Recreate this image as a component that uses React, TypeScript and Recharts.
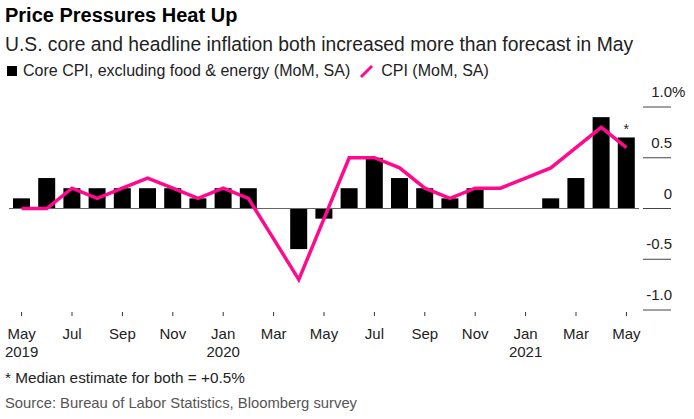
import React from 'react';
import { ComposedChart, Bar, Line, XAxis, YAxis, ReferenceLine } from 'recharts';

const months = ['May', 'Jun', 'Jul', 'Aug', 'Sep', 'Oct', 'Nov', 'Dec', 'Jan', 'Feb', 'Mar', 'Apr', 'May', 'Jun', 'Jul', 'Aug', 'Sep', 'Oct', 'Nov', 'Dec', 'Jan', 'Feb', 'Mar', 'Apr', 'May'];
const years = ['2019', '', '', '', '', '', '', '', '2020', '', '', '', '', '', '', '', '', '', '', '', '2021', '', '', '', ''];
const coreCpi = [0.1, 0.3, 0.2, 0.2, 0.2, 0.2, 0.2, 0.1, 0.2, 0.2, 0.0, -0.4, -0.1, 0.2, 0.5, 0.3, 0.2, 0.1, 0.2, 0.0, 0.0, 0.1, 0.3, 0.9, 0.7];
const cpi = [0.0, 0.0, 0.2, 0.1, 0.2, 0.3, 0.2, 0.1, 0.2, 0.1, -0.3, -0.7, -0.1, 0.5, 0.5, 0.4, 0.2, 0.1, 0.2, 0.2, 0.3, 0.4, 0.6, 0.8, 0.6];
const yTicks = [-1, -0.5, 0, 0.5, 1];
const yTickLabels = ['-1.0', '-0.5', '0', '0.5', '1.0'];
const estimateMarkIndex = 24;

const data = months.map((m, i) => ({ key: String(i), month: m, year: years[i], core: coreCpi[i], cpi: cpi[i] }));

const FONT = '"Liberation Sans", Arial, Helvetica, sans-serif';
const PINK = '#ff0a8c';

const XTick = (props: any) => {
  const { x, y, payload } = props;
  const d = data[Number(payload.value)];
  if (!d) return null;
  return (
    <g>
      <line x1={x} x2={x} y1={y + 2} y2={y + 6} stroke="#333" strokeWidth={1} />
      <text x={x} y={y + 29} textAnchor="middle" fontSize={15} fill="#222" fontFamily={FONT}>{d.month}</text>
      {d.year ? (
        <text x={x} y={y + 47} textAnchor="middle" fontSize={15} fill="#222" fontFamily={FONT}>{d.year}</text>
      ) : null}
    </g>
  );
};

const YTick = (props: any) => {
  const { x, y, payload } = props;
  const idx = yTicks.indexOf(payload.value);
  const label = yTickLabels[idx];
  const isTop = idx === yTicks.length - 1;
  return (
    <g>
      <line x1={x + 4} x2={x + 32} y1={y} y2={y} stroke="#444" strokeWidth={1} />
      <text x={x + 33} y={y - 10} textAnchor="end" fontSize={15} fill="#222" fontFamily={FONT}>{label}</text>
      {isTop ? (
        <text x={x + 33} y={y - 10} textAnchor="start" fontSize={15} fill="#222" fontFamily={FONT}>%</text>
      ) : null}
    </g>
  );
};

const BarShape = (props: any) => {
  const { x, y, width, height, index } = props;
  if (x == null || y == null) return null;
  const h = Number(height) || 0;
  const top = h < 0 ? y + h : y;
  const absH = Math.abs(h);
  return (
    <g>
      {absH > 0 ? <rect x={x} y={top} width={width} height={absH} fill="#000" /> : null}
      {index === estimateMarkIndex ? (
        <text x={x + width / 2} y={top - 3} textAnchor="middle" fontSize={14} fill="#222" fontFamily={FONT}>*</text>
      ) : null}
    </g>
  );
};

export default function App() {
  const legendText: React.CSSProperties = { fontSize: 16, lineHeight: '16px', color: '#222', whiteSpace: 'nowrap' };
  return (
    <div style={{ position: 'relative', width: 694, height: 419, background: '#fff', fontFamily: FONT, overflow: 'hidden' }}>
      <style>{`body{margin:0;}`}</style>
      <div style={{ position: 'absolute', left: 5, top: 5, fontSize: 20, lineHeight: '20px', fontWeight: 700, color: '#000', whiteSpace: 'nowrap' }}>
        Price Pressures Heat Up
      </div>
      <div style={{ position: 'absolute', left: 5, top: 35, fontSize: 19.3, lineHeight: '19px', color: '#222', whiteSpace: 'nowrap' }}>
        U.S. core and headline inflation both increased more than forecast in May
      </div>
      <div style={{ position: 'absolute', left: 7, top: 63, display: 'flex', alignItems: 'center', height: 16 }}>
        <div style={{ width: 10, height: 10, background: '#000', marginRight: 6 }} />
        <div style={legendText}>Core CPI, excluding food &amp; energy (MoM, SA)</div>
        <svg width={16} height={16} style={{ marginLeft: 9, marginRight: 6 }}>
          <line x1={2} y1={14} x2={13} y2={3} stroke={PINK} strokeWidth={3} />
        </svg>
        <div style={legendText}>CPI (MoM, SA)</div>
      </div>
      <div style={{ position: 'absolute', left: 0, top: 0 }}>
        <ComposedChart width={694} height={419} data={data} margin={{ top: 107, right: 0, bottom: 49, left: 9 }}>
          <XAxis dataKey="key" interval={1} axisLine={false} tickLine={false} tickSize={0} tickMargin={0} height={60} tick={<XTick />} />
          <YAxis orientation="right" width={55} domain={[-1, 1]} ticks={yTicks} axisLine={false} tickLine={false} tickSize={0} tickMargin={0} tick={<YTick />} allowDataOverflow />
          <ReferenceLine y={0} stroke="#666" strokeWidth={1} />
          <Bar dataKey="core" fill="#000" barSize={17} isAnimationActive={false} shape={<BarShape />} />
          <Line type="linear" dataKey="cpi" stroke={PINK} strokeWidth={3.5} dot={false} activeDot={false} isAnimationActive={false} />
        </ComposedChart>
      </div>
      <div style={{ position: 'absolute', left: 5, top: 370, fontSize: 15.3, lineHeight: '15px', color: '#222', whiteSpace: 'nowrap' }}>
        * Median estimate for both = +0.5%
      </div>
      <div style={{ position: 'absolute', left: 5, top: 396, fontSize: 14.8, lineHeight: '15px', color: '#555', whiteSpace: 'nowrap' }}>
        Source: Bureau of Labor Statistics, Bloomberg survey
      </div>
    </div>
  );
}
